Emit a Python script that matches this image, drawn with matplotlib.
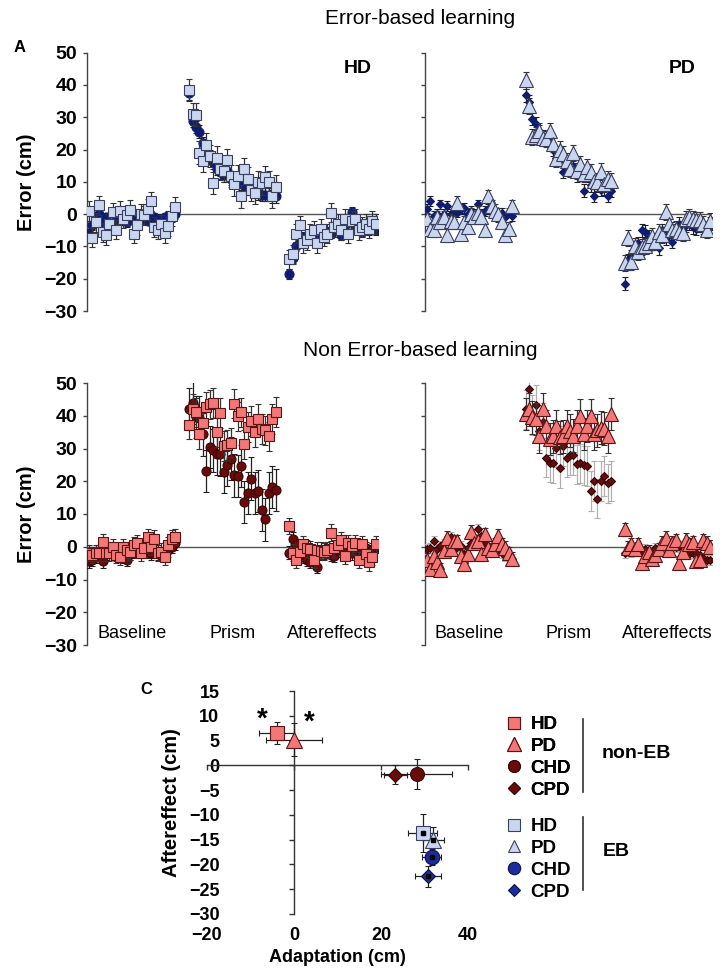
import numpy as np
import matplotlib
matplotlib.use("Agg")
import matplotlib.pyplot as plt
from matplotlib.lines import Line2D

plt.rcParams['font.family'] = ['Liberation Sans', 'DejaVu Sans']

# ---------------- data: panel A (error-based, EB) ----------------
eb_hd_base = [1.0, -7.3, -2.5, 2.7, -5.6, -6.6, -3.0, 0.6, -4.8, 1.1, -1.4, -0.4, 1.4, -6.0, -3.5, 0.0, -0.4, 1.6, 4.0, -4.0, -4.8, -3.2, -5.9, -3.8, -0.6, 2.2]
eb_hd_prism = [38.5, 31.0, 30.8, 19.0, 16.5, 21.5, 18.0, 9.7, 17.5, 14.0, 13.5, 16.8, 11.8, 9.2, 11.8, 5.5, 14.0, 11.0, 7.5, 6.7, 10.0, 9.5, 11.5, 9.8, 5.5, 8.5]
eb_hd_after = [-14.0, -12.5, -6.0, -3.5, -9.0, -8.0, -6.0, -5.0, -9.0, -4.5, -7.0, -6.0, 0.5, -4.0, -3.0, -5.0, -1.5, -6.0, -2.0, -1.5, -5.0, -4.0, -3.0, -4.5, -2.0, -3.0]
eb_chd_base = [-6.0, -3.5, -2.5, 0.0, -2.8, -1.0, -3.0, -3.2, -1.5, -2.0, -1.0, -2.5, -1.0, 0.0, -2.0, -0.5, -1.5, -2.0, -0.5, -1.0, -1.5, -2.0, -1.0, -0.5, -0.8, 0.0]
eb_chd_prism = [37.5, 29.0, 27.0, 25.5, 22.0, 19.5, 18.0, 16.0, 14.0, 13.0, 12.0, 13.5, 11.0, 10.0, 10.0, 9.5, 9.0, 8.0, 8.0, 7.0, 6.5, 6.0, 6.0, 6.0, 5.5, 5.5]
eb_chd_after = [-18.5, -13.5, -10.0, -8.0, -7.0, -7.5, -6.5, -6.0, -6.5, -6.0, -7.0, -5.5, -6.0, -4.0, -5.0, -6.5, -3.5, -6.0, 0.8, -4.0, -5.0, -5.5, -4.0, -5.0, -4.5, -5.0]

eb_pd_base = [-1.5, -4.5, -5.0, -1.0, -2.5, -1.0, -6.5, -2.0, -2.5, 3.5, -6.0, -2.5, -4.0, 0.0, -1.0, 0.5, -1.0, -5.0, 5.5, 2.5, 1.0, 0.0, -2.5, -6.5, -4.5, 2.5]
eb_pd_prism = [41.4, 33.6, 24.0, 24.6, 25.6, 23.6, 23.4, 25.6, 21.7, 17.0, 20.0, 18.7, 16.4, 13.9, 19.0, 13.4, 15.4, 12.3, 14.6, 12.9, 10.3, 9.8, 13.2, 9.3, 10.8, 10.3]
eb_pd_after = [-15.2, -7.5, -14.7, -9.9, -11.6, -10.1, -9.9, -8.9, -6.8, -8.6, -5.5, -6.5, 0.6, -3.0, -4.8, -4.5, -5.5, -5.8, -1.4, -1.0, -1.4, -1.9, -1.9, -3.0, -4.8, -2.1]
eb_cpd_base = [1.5, 4.0, -0.5, 0.0, 3.0, 0.0, 2.5, 0.0, 0.0, 0.5, 1.5, 2.0, 0.0, 1.0, 0.0, 3.0, 0.0, 1.0, 1.5, 1.0, 0.0, -1.0, 0.5, -1.0, 0.5, -0.5]
eb_cpd_prism = [36.8, 34.8, 29.5, 28.0, 25.6, 24.0, 23.0, 22.5, 20.0, 17.5, 19.0, 13.2, 16.0, 15.0, 14.9, 12.0, 13.0, 7.2, 12.0, 9.0, 5.7, 9.0, 7.5, 8.0, 5.7, 7.2]
eb_cpd_after = [-21.5, -14.2, -13.0, -11.0, -9.0, -5.0, -5.5, -7.0, -9.0, -8.0, -10.6, -5.0, -7.5, -6.0, -8.6, -5.0, -3.0, -4.0, -3.5, -3.0, -4.0, -4.5, -3.5, -4.0, -4.5, -3.0]

# ---------------- data: non error-based (non-EB) ----------------
neb_hd_base = [-2.0, -2.5, -2.0, -2.0, 1.5, -2.0, -2.0, 0.0, -2.5, -3.0, 0.0, -1.0, -1.5, 0.5, 1.0, -2.0, -0.5, 3.0, 0.0, 2.5, -2.0, -1.5, -3.0, 0.5, 2.5, 3.0]
neb_hd_prism = [37.3, 42.0, 41.0, 34.3, 37.8, 42.6, 43.5, 43.9, 35.0, 40.8, 30.7, 31.0, 31.8, 43.7, 39.8, 41.0, 31.3, 36.5, 38.4, 35.0, 39.0, 36.0, 35.5, 33.7, 39.0, 41.1]
neb_hd_after = [6.4, -1.8, -4.1, -1.5, 0.8, -0.5, -0.8, -4.1, -1.0, -1.2, -1.5, -1.0, 4.3, -0.5, 0.5, 2.0, -2.8, 1.0, 0.2, 1.0, -4.1, 0.8, -2.2, -4.8, -3.0, 0.8]
neb_chd_base = [-4.5, -4.0, -3.0, -2.5, -4.5, -2.0, -1.5, -2.0, -2.5, -2.0, -3.0, -4.0, -2.0, -1.5, -1.0, -0.5, -1.0, -1.5, -2.0, -1.5, -2.0, -2.5, -2.0, -1.0, 0.0, 1.0]
neb_chd_prism = [42.0, 43.9, 39.6, 39.4, 34.3, 23.1, 30.5, 29.4, 28.4, 28.2, 22.8, 24.9, 26.9, 21.8, 21.6, 24.6, 13.7, 16.4, 20.8, 16.4, 17.0, 11.2, 8.4, 16.4, 18.3, 17.3]
neb_chd_after = [-1.8, 2.5, 0.5, -1.2, -3.0, -3.9, -4.6, -3.6, -6.1, -2.0, -1.8, -1.2, -2.5, -2.8, -1.0, -1.0, -0.5, -2.0, -2.0, -1.0, -0.8, -1.0, -0.5, -1.5, -1.0, 0.0]

neb_pd_base = [-3.9, -6.9, -2.7, -4.7, -7.1, -1.3, 2.8, -0.6, 1.7, 1.7, -2.9, -5.4, -2.3, 4.5, 1.2, 1.7, -2.3, 3.8, -0.3, -1.0, 0.7, 3.3, 0.7, -0.3, -2.0, -3.7]
neb_pd_prism = [40.5, 42.0, 39.5, 39.0, 33.7, 42.0, 36.9, 32.9, 33.7, 36.9, 33.4, 33.7, 36.9, 35.4, 33.9, 36.9, 40.0, 34.4, 36.9, 40.0, 34.4, 35.5, 36.4, 36.0, 33.7, 40.5]
neb_pd_after = [5.3, -0.3, 0.7, -0.8, 0.7, -4.9, -2.7, -1.6, -3.7, -2.6, -0.8, 1.2, 2.8, -1.0, 1.2, 2.0, -4.9, -1.6, 2.2, 0.7, 1.4, -4.4, -3.9, 2.0, 1.2, 0.0]
neb_cpd_base = [-0.8, -0.5, 1.7, -0.8, 0.2, 1.0, 1.7, 3.0, -0.8, 0.0, 0.2, -2.3, -0.5, 1.2, 0.5, 5.5, 3.3, 0.7, 0.2, -0.5, 0.0, -0.5, -2.0, -2.9, -2.5, -3.7]
neb_cpd_prism = [42.0, 48.2, 40.2, 43.3, 35.4, 38.0, 27.2, 25.7, 25.5, 30.3, 23.9, 30.8, 27.2, 28.0, 28.0, 25.2, 25.5, 24.9, 24.7, 17.0, 20.1, 14.7, 20.1, 21.6, 19.4, 20.1]
neb_cpd_after = [-1.8, -1.3, -1.5, -1.3, -1.0, -1.3, -0.8, -2.0, -1.5, -0.5, -0.3, 0.7, -0.3, 0.2, 0.2, 0.0, 0.2, -0.3, -1.0, -2.3, -1.8, -2.0, -2.5, -3.5, -4.1, -4.1]

# error bar half-widths per block (baseline, prism, aftereffects)
err_eb_hd = [3.0, 3.5, 3.0]
err_eb_chd = [1.5, 2.0, 1.5]
err_eb_pd = [2.0, 2.5, 2.5]
err_eb_cpd = [1.5, 2.0, 2.0]
err_neb_hd = [2.5, 4.5, 2.5]
err_neb_chd = [2.0, 6.5, 2.0]
err_neb_pd = [2.0, 5.0, 2.0]
err_neb_cpd = [1.5, 6.0, 1.5]

block_labels = ['Baseline', 'Prism', 'Aftereffects']
yticks_a = [-30, -20, -10, 0, 10, 20, 30, 40, 50]

# ---------------- data: panel C ----------------
c_groups = ['HD', 'PD', 'CHD', 'CPD']
c_neb_adapt = [-4.0, 0.0, 28.2, 23.3]
c_neb_adapt_err = [4.0, 6.4, 8.2, 2.7]
c_neb_after = [6.5, 5.2, -1.7, -1.9]
c_neb_after_err = [2.2, 3.3, 3.0, 1.9]
c_eb_adapt = [29.6, 32.0, 31.7, 30.8]
c_eb_adapt_err = [3.3, 2.4, 2.2, 2.9]
c_eb_after = [-13.7, -15.0, -18.5, -22.4]
c_eb_after_err = [3.8, 2.6, 1.6, 2.1]

# ---------------- styles ----------------
LB = '#c8d7ef'
NAVY = '#0e1c72'
SALMON = '#f47777'
DRED = '#6a0b0b'
C_NAVY = '#1b2c9c'

W, H = 723, 968
fig = plt.figure(figsize=(W / 100, H / 100), dpi=100)


def rect(l, t, r, b):
    return [l / W, 1 - b / H, (r - l) / W, (b - t) / H]


BLOCK_START = [0, 29, 58]


def draw_series(ax, blocks, errs, marker, ms, face, edge, ecol, z):
    for b, vals in enumerate(blocks):
        x = BLOCK_START[b] + np.arange(len(vals))
        ax.errorbar(x, vals, yerr=errs[b], fmt=marker, ms=ms, mfc=face, mec=edge,
                    mew=0.8, ecolor=ecol, elinewidth=0.9, capsize=2.5, capthick=0.9,
                    zorder=z)


def style_a(ax, show_labels):
    ax.set_xlim(-0.5, 83.6)
    ax.set_ylim(-30, 50)
    for s in ['top', 'right', 'bottom']:
        ax.spines[s].set_visible(False)
    ax.spines['left'].set_color('#444444')
    ax.spines['left'].set_linewidth(1.0)
    ax.set_xticks([])
    ax.set_yticks(yticks_a)
    ax.tick_params(axis='y', direction='out', length=3, width=1, color='#444444',
                   labelsize=14, pad=4, labelleft=show_labels)
    for t in ax.get_yticklabels():
        t.set_fontweight('bold')
    ax.axhline(0, color='#555555', lw=1.0, zorder=1)


# ---- top-left: EB HD ----
ax1 = fig.add_axes(rect(87, 52.7, 378, 311))
draw_series(ax1, [eb_chd_base, eb_chd_prism, eb_chd_after], err_eb_chd, 'o', 6.5, NAVY, NAVY, '#222222', 3)
draw_series(ax1, [eb_hd_base, eb_hd_prism, eb_hd_after], err_eb_hd, 's', 7.8, LB, '#3b4060', '#333333', 4)
style_a(ax1, True)
ax1.set_ylabel('Error (cm)', fontsize=14.5, fontweight='bold', labelpad=6)
ax1.text(0.931, 0.94, 'HD', transform=ax1.transAxes, ha='center', va='center',
         fontsize=14, fontweight='bold')

# ---- top-right: EB PD ----
ax2 = fig.add_axes(rect(425, 52.7, 712, 311))
draw_series(ax2, [eb_cpd_base, eb_cpd_prism, eb_cpd_after], err_eb_cpd, 'D', 4.3, NAVY, NAVY, '#222222', 3)
draw_series(ax2, [eb_pd_base, eb_pd_prism, eb_pd_after], err_eb_pd, '^', 9.5, LB, '#3b4060', '#333333', 4)
style_a(ax2, False)
ax2.text(0.895, 0.94, 'PD', transform=ax2.transAxes, ha='center', va='center',
         fontsize=14, fontweight='bold')

# ---- bottom-left: non-EB HD ----
ax3 = fig.add_axes(rect(87, 383, 378, 645))
draw_series(ax3, [neb_chd_base, neb_chd_prism, neb_chd_after], err_neb_chd, 'o', 6.5, DRED, '#3a0505', '#222222', 3)
draw_series(ax3, [neb_hd_base, neb_hd_prism, neb_hd_after], err_neb_hd, 's', 7.8, SALMON, '#5a1414', '#333333', 4)
style_a(ax3, True)
ax3.set_ylabel('Error (cm)', fontsize=14.5, fontweight='bold', labelpad=6)

# ---- bottom-right: non-EB PD ----
ax4 = fig.add_axes(rect(425, 383, 712, 645))
draw_series(ax4, [neb_cpd_base, neb_cpd_prism, neb_cpd_after], err_neb_cpd, 'D', 4.3, DRED, '#3a0505', '#b0b0b0', 3)
draw_series(ax4, [neb_pd_base, neb_pd_prism, neb_pd_after], err_neb_pd, '^', 9.5, SALMON, '#5a1414', '#333333', 4)
style_a(ax4, False)

for ax in (ax3, ax4):
    for b, lab in enumerate(block_labels):
        ax.text(BLOCK_START[b] + 12.5, -26.6, lab, ha='center', va='center', fontsize=13)

fig.text(420 / W, 1 - 18 / H, 'Error-based learning', ha='center', va='center', fontsize=15)
fig.text(420 / W, 1 - 350 / H, 'Non Error-based learning', ha='center', va='center', fontsize=15)
fig.text(20 / W, 1 - 48 / H, 'A', ha='center', va='center', fontsize=12, fontweight='bold')
fig.text(146 / W, 1 - 689 / H, 'C', ha='center', va='center', fontsize=12, fontweight='bold')

# ---------------- panel C ----------------
crect = rect(207, 691, 468, 914)
axl = fig.add_axes(crect)
axl.set_xlim(-20, 40)
axl.set_ylim(-30, 15)
for s in axl.spines.values():
    s.set_visible(False)
axl.patch.set_visible(False)
axl.set_xticks([-20, 0, 20, 40])
axl.set_yticks(np.arange(-30, 16, 5))
axl.tick_params(axis='both', length=0, labelsize=13)
axl.tick_params(axis='y', pad=-9)
axl.tick_params(axis='x', pad=9)
for t in axl.get_xticklabels() + axl.get_yticklabels():
    t.set_fontweight('bold')
axl.set_xlabel('Adaptation (cm)', fontsize=13, fontweight='bold', labelpad=4)
axl.set_ylabel('Aftereffect (cm)', fontsize=14.5, fontweight='bold', labelpad=6)

axc = fig.add_axes(crect)
axc.patch.set_visible(False)
axc.set_xlim(-20, 40)
axc.set_ylim(-30, 15)
for s in ['top', 'right']:
    axc.spines[s].set_visible(False)
axc.spines['left'].set_position(('data', 0))
axc.spines['bottom'].set_position(('data', 0))
for s in ['left', 'bottom']:
    axc.spines[s].set_color('#333333')
    axc.spines[s].set_linewidth(1.0)
axc.set_xticks([-20, 0, 20, 40])
axc.set_yticks(np.arange(-30, 16, 5))
axc.tick_params(axis='both', direction='out', length=3.5, width=1, color='#333333',
                labelleft=False, labelbottom=False)

neb_style = [('s', 10, SALMON, '#5a1414'), ('^', 12, SALMON, '#5a1414'),
             ('o', 10, DRED, '#3a0505'), ('D', 7.5, DRED, '#3a0505')]
eb_style = [('s', 10.5, LB, '#3b4060'), ('^', 11, LB, '#3b4060'),
            ('o', 10.5, C_NAVY, '#0a124a'), ('D', 7.5, C_NAVY, '#0a124a')]

for i in range(4):
    m, ms, fc, ec = neb_style[i]
    axc.errorbar(c_neb_adapt[i], c_neb_after[i], xerr=c_neb_adapt_err[i], yerr=c_neb_after_err[i],
                 fmt=m, ms=ms, mfc=fc, mec=ec, mew=0.8, ecolor='#222222', elinewidth=0.9,
                 capsize=2.5, capthick=0.9, zorder=4)
for i in range(4):
    m, ms, fc, ec = eb_style[i]
    axc.errorbar(c_eb_adapt[i], c_eb_after[i], xerr=c_eb_adapt_err[i], yerr=c_eb_after_err[i],
                 fmt=m, ms=ms, mfc=fc, mec=ec, mew=0.8, ecolor='#222222', elinewidth=0.9,
                 capsize=2.5, capthick=0.9, zorder=4)
axc.plot(c_eb_adapt, c_eb_after, 's', ms=2.3, color='black', zorder=5, ls='none')

axc.text(-7.3, 9.3, '*', ha='center', va='center', fontsize=20, fontweight='bold')
axc.text(3.4, 8.6, '*', ha='center', va='center', fontsize=20, fontweight='bold')

# ---------------- legend ----------------
def handles(styles):
    hs = []
    for m, ms, fc, ec in styles:
        hs.append(Line2D([], [], ls='none', marker=m, ms=ms * 0.85, mfc=fc, mec=ec, mew=0.8))
    return hs


leg_kw = dict(frameon=False, handlelength=1.0, handletextpad=0.35, labelspacing=0.25,
              borderaxespad=0, borderpad=0, prop={'size': 13.5, 'weight': 'bold'}, loc='upper left')
lg1 = fig.legend(handles(neb_style), c_groups, bbox_to_anchor=(505 / W, 1 - 716 / H), **leg_kw)
fig.add_artist(lg1)
lg2 = fig.legend(handles(eb_style), c_groups, bbox_to_anchor=(505 / W, 1 - 818 / H), **leg_kw)

fig.add_artist(Line2D([583 / W, 583 / W], [1 - 719 / H, 1 - 792 / H], color='#333333', lw=1.2))
fig.add_artist(Line2D([583 / W, 583 / W], [1 - 817 / H, 1 - 890 / H], color='#333333', lw=1.2))
fig.text(602 / W, 1 - 753 / H, 'non-EB', ha='left', va='center', fontsize=14, fontweight='bold')
fig.text(603 / W, 1 - 852 / H, 'EB', ha='left', va='center', fontsize=14, fontweight='bold')

fig.savefig('out.png', dpi=100)
